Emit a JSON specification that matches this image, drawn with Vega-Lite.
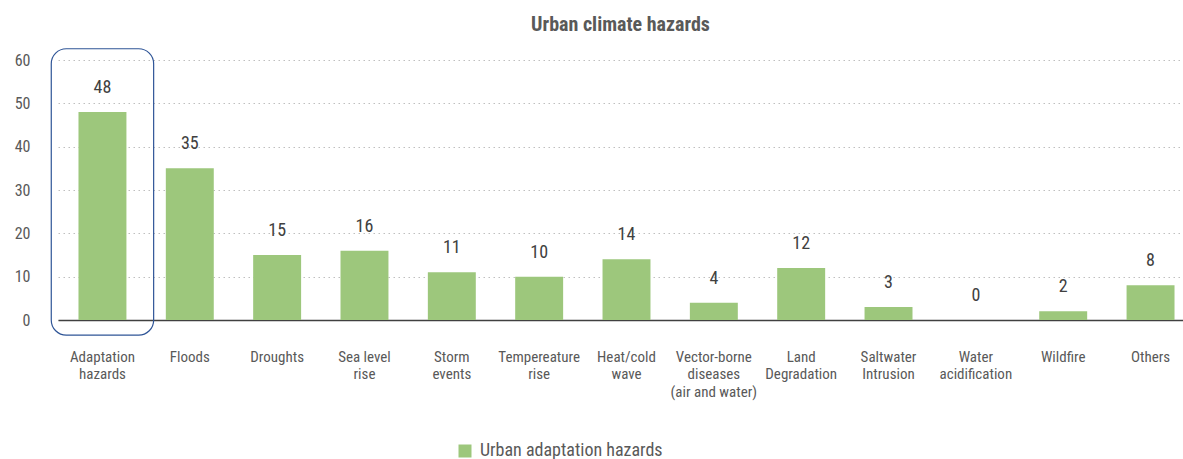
{
  "$schema": "https://vega.github.io/schema/vega-lite/v6.json",
  "width": 1125,
  "height": 260,
  "autosize": {"type": "none"},
  "padding": {"left": 58, "top": 60, "right": 0, "bottom": 139},
  "background": "white",
  "config": {
    "font": "Roboto Condensed, Liberation Sans Narrow, Roboto",
    "view": {"stroke": null}
  },
  "title": {"text": "Urban climate hazards", "fontSize": 20, "fontWeight": "bold", "color": "#595959", "anchor": "middle", "offset": 13},
  "data": {"values": [
    {"hazard": "Adaptation|hazards", "count": 48, "series": "Urban adaptation hazards"},
    {"hazard": "Floods", "count": 35, "series": "Urban adaptation hazards"},
    {"hazard": "Droughts", "count": 15, "series": "Urban adaptation hazards"},
    {"hazard": "Sea level|rise", "count": 16, "series": "Urban adaptation hazards"},
    {"hazard": "Storm|events", "count": 11, "series": "Urban adaptation hazards"},
    {"hazard": "Tempereature|rise", "count": 10, "series": "Urban adaptation hazards"},
    {"hazard": "Heat/cold|wave", "count": 14, "series": "Urban adaptation hazards"},
    {"hazard": "Vector-borne|diseases|(air and water)", "count": 4, "series": "Urban adaptation hazards"},
    {"hazard": "Land|Degradation", "count": 12, "series": "Urban adaptation hazards"},
    {"hazard": "Saltwater|Intrusion", "count": 3, "series": "Urban adaptation hazards"},
    {"hazard": "Water|acidification", "count": 0, "series": "Urban adaptation hazards"},
    {"hazard": "Wildfire", "count": 2, "series": "Urban adaptation hazards"},
    {"hazard": "Others", "count": 8, "series": "Urban adaptation hazards"}
  ]},
  "encoding": {
    "x": {
      "field": "hazard", "type": "nominal", "sort": null,
      "scale": {"range": [0, 1137], "paddingInner": 0.451, "paddingOuter": 0.2345},
      "axis": {
        "title": null, "labelAngle": 0, "ticks": false,
        "domainColor": "#404040", "domainWidth": 1.5,
        "labelPadding": 29, "labelFontSize": 15, "labelColor": "#595959",
        "labelLineHeight": 17.5, "labelExpr": "split(datum.value, '|')"
      }
    }
  },
  "layer": [
    {
      "mark": {"type": "bar", "color": "#9DC77C"},
      "encoding": {
        "y": {
          "field": "count", "type": "quantitative",
          "scale": {"domain": [0, 60], "nice": false},
          "axis": {
            "title": null, "domain": false, "ticks": false, "values": [0, 10, 20, 30, 40, 50, 60],
            "labelFontSize": 16, "labelColor": "#595959", "labelPadding": 28,
            "gridColor": "#bfbfbf", "gridDash": [1.5, 3.5], "gridWidth": 1
          }
        },
        "color": {
          "field": "series", "type": "nominal",
          "scale": {"range": ["#9DC77C"]},
          "legend": {
            "title": null, "orient": "none", "legendX": 398, "legendY": 382, "direction": "horizontal",
            "symbolType": "square", "symbolSize": 169, "symbolStrokeWidth": 0, "labelOffset": 6,
            "labelFontSize": 18, "labelColor": "#595959", "labelLimit": 0
          }
        }
      }
    },
    {
      "mark": {"type": "text", "dy": -19, "baseline": "alphabetic", "fontSize": 18, "color": "#404040"},
      "encoding": {
        "y": {"field": "count", "type": "quantitative"},
        "text": {"field": "count", "type": "quantitative"}
      }
    },
    {
      "data": {"values": [{"hazard": "Adaptation|hazards", "lo": -3.5, "hi": 62.6}]},
      "mark": {"type": "bar", "fill": null, "filled": false, "stroke": "#2F5597", "strokeWidth": 1.2, "cornerRadius": 15, "width": {"band": 2.135}},
      "encoding": {
        "y": {"field": "lo", "type": "quantitative"},
        "y2": {"field": "hi"}
      }
    }
  ]
}
